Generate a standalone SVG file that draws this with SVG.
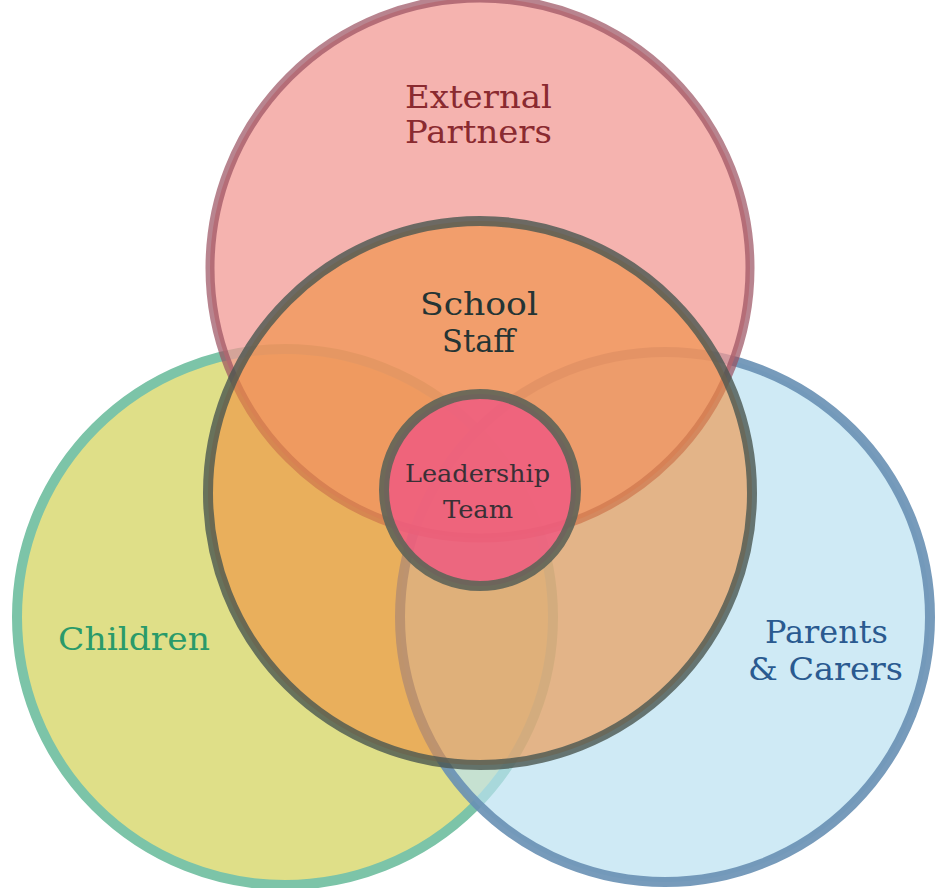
<svg xmlns="http://www.w3.org/2000/svg" width="936" height="888" viewBox="0 0 936 888">
<style>
text{font-family:"DejaVu Serif","Liberation Serif",serif;text-anchor:start}
.lbl{font-size:31px}
</style>
<rect width="936" height="888" fill="#ffffff"/>
<g id="children"><circle cx="285" cy="617" r="268" fill="#dfdf88" stroke="#7cc4a8" stroke-width="10"/></g>
<g id="parents"><circle cx="665" cy="617" r="265" fill="#bae1f1" fill-opacity="0.7" stroke="#6890b4" stroke-opacity="0.9" stroke-width="10"/></g>
<g id="external"><circle cx="480" cy="268" r="270" fill="#f29a94" fill-opacity="0.75" stroke="#9a5060" stroke-opacity="0.7" stroke-width="9"/></g>
<g id="school"><circle cx="480" cy="493" r="272" fill="#f09040" fill-opacity="0.6" stroke="#4a5650" stroke-opacity="0.8" stroke-width="10"/></g>
<g id="leadership"><circle cx="480" cy="490" r="96" fill="#ee5a80" fill-opacity="0.85" stroke="#5f6458" stroke-opacity="0.9" stroke-width="10"/></g>
<g id="connectors"></g>
<g id="labels">
<text class="lbl" x="405" y="108" fill="#8a2a30" textLength="147" lengthAdjust="spacingAndGlyphs">External</text>
<text class="lbl" x="405" y="143" fill="#8a2a30" textLength="147" lengthAdjust="spacingAndGlyphs">Partners</text>
<text class="lbl" x="420" y="315" fill="#243434" textLength="118" lengthAdjust="spacingAndGlyphs">School</text>
<text class="lbl" x="442" y="352" fill="#243434" textLength="73" lengthAdjust="spacingAndGlyphs">Staff</text>
<text x="405" y="482" font-size="25" fill="#3a3036" textLength="145" lengthAdjust="spacingAndGlyphs">Leadership</text>
<text x="443" y="518" font-size="25" fill="#3a3036" textLength="70" lengthAdjust="spacingAndGlyphs">Team</text>
<text class="lbl" x="58" y="650" fill="#2a9a6a" textLength="152" lengthAdjust="spacingAndGlyphs">Children</text>
<text class="lbl" x="765" y="643" fill="#2a5a90" textLength="123" lengthAdjust="spacingAndGlyphs">Parents</text>
<text class="lbl" x="748" y="680" fill="#2a5a90" textLength="155" lengthAdjust="spacingAndGlyphs">&amp; Carers</text>
</g>
</svg>
